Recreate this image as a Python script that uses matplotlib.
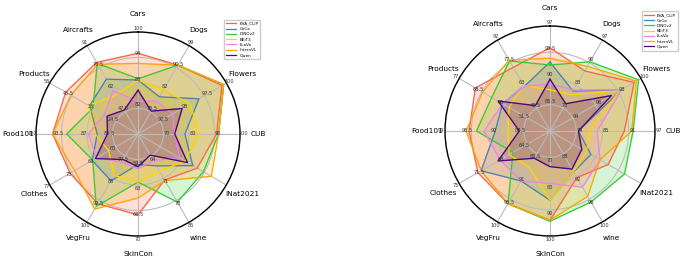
import numpy as np
import matplotlib
matplotlib.use("Agg")
import matplotlib.pyplot as plt

categories = ["Cars", "Dogs", "Flowers", "CUB", "iNat2021", "wine",
              "SkinCon", "VegFru", "Clothes", "Food101", "Products", "Aircrafts"]
models = ["EVA_CLIP", "CoCa", "DINOv2", "BEiT3", "LLaVa", "InternVL", "Qwen"]
colors = ["#ff6347", "#4682b4", "#32cd32", "#ffd700", "#ee82ee", "#ffa500", "#4b0082"]

# per-axis scale (top value and step between rings)
left_top = [100, 99, 100, 100, 100, 85, 70, 100, 77, 100, 56, 91]
left_step = [6, 8.5, 2.5, 10, 25, 7, 3.5, 7.5, 4, 6.5, 10.5, 14.5]
right_top = [97, 97, 100, 97, 100, 100, 100, 100, 75, 99, 77, 92]
right_step = [3.5, 7, 2, 6, 25, 4, 10, 4.5, 3.5, 3.5, 8.5, 14.5]
no_labels = ["iNat2021"]

left_scores = {
    "EVA_CLIP": [95.0, 91.5, 99.5, 90.8, 67, 71.6, 67.1, 93.7, 73.3, 95.8, 48.4, 80.0],
    "CoCa":     [88.7, 79.3, 96.9, 78.4, 62, 67.1, 60.2, 85.9, 69.3, 84.4, 37.1, 69.0],
    "DINOv2":   [89.0, 91.5, 99.7, 91.6, 74, 78.6, 62.6, 94.6, 69.2, 92.2, 35.4, 79.4],
    "BEiT3":    [88.7, 82.0, 95.9, 84.0, 53, 68.8, 62.6, 84.1, 66.3, 84.9, 37.5, 58.5],
    "LLaVa":    [83.7, 77.6, 93.9, 74.4, 47, 65.4, 60.8, 79.6, 68.5, 86.7, 30.0, 61.4],
    "InternVL": [92.6, 91.5, 99.7, 91.6, 83, 71.8, 64.8, 95.5, 72.5, 95.8, 45.9, 78.8],
    "Qwen":     [86.3, 73.8, 95.0, 74.4, 56, 63.7, 60.5, 78.7, 68.7, 81.8, 28.7, 48.7],
}
right_scores = {
    "EVA_CLIP": [94.1, 87.5, 99.4, 90.0, 64, 92.2, 94.0, 96.4, 72.1, 95.8, 70.9, 74.6],
    "CoCa":     [92.2, 81.3, 98.3, 79.5, 45, 91.2, 86.4, 91.9, 71.6, 92.3, 60.7, 62.4],
    "DINOv2":   [91.8, 90.3, 99.8, 92.0, 82, 96.5, 94.4, 96.4, 66.7, 94.8, 64.8, 78.7],
    "BEiT3":    [88.5, 80.2, 98.1, 82.1, 40, 91.2, 86.4, 89.2, 67.3, 90.6, 58.3, 63.0],
    "LLaVa":    [89.3, 81.6, 98.3, 83.8, 55, 93.9, 80.0, 91.9, 68.7, 93.8, 60.7, 62.4],
    "InternVL": [92.7, 88.9, 99.6, 91.7, 55, 95.5, 94.0, 96.4, 71.6, 96.2, 68.2, 79.2],
    "Qwen":     [89.9, 77.4, 97.4, 79.5, 35, 90.7, 73.6, 87.4, 69.0, 89.1, 62.4, 50.2],
}


def fmt(v):
    return f"{v:g}"


def radar(ax, scores, top, step):
    n = len(categories)
    angles = np.linspace(0, 2 * np.pi, n, endpoint=False)
    top = np.array(top, dtype=float)
    step = np.array(step, dtype=float)
    low = top - 4 * step

    ax.set_theta_offset(np.pi / 2)
    ax.set_theta_direction(-1)
    ax.set_ylim(0, 1)
    ax.set_xticks(angles)
    ax.set_xticklabels(categories, fontsize=5.3)
    ax.tick_params(axis="x", pad=2.5)
    ax.set_yticks([0.25, 0.5, 0.75, 1.0])
    ax.set_yticklabels([])
    ax.grid(color="#bbbbbb", linewidth=0.8)
    ax.spines["polar"].set_linewidth(1.0)
    ax.spines["polar"].set_color("black")

    for i, cat in enumerate(categories):
        if cat in no_labels:
            continue
        for k in range(1, 5):
            ax.text(angles[i], k * 0.25 + 0.035, fmt(low[i] + k * step[i]),
                    fontsize=3.6, ha="center", va="center", color="#333333")

    for name, col in zip(models, colors):
        vals = (np.array(scores[name]) - low) / (top - low)
        a = np.append(angles, angles[0])
        r = np.append(vals, vals[0])
        ax.plot(a, r, color=col, linewidth=0.9, label=name)
        ax.fill(a, r, color=col, alpha=0.2)

    ax.legend(loc="upper right", fontsize=3.0, handlelength=2.4,
              borderpad=0.5, labelspacing=0.3, framealpha=1.0)


fig = plt.figure(figsize=(6.86, 2.63), dpi=100)
ax1 = fig.add_axes([0.0525, 0.1027, 0.2974, 0.7757], projection="polar")
ax2 = fig.add_axes([0.6487, 0.1027, 0.3061, 0.7985], projection="polar")

radar(ax1, left_scores, left_top, left_step)
ax1.legend_.set_bbox_to_anchor((1.11, 1.07))
radar(ax2, right_scores, right_top, right_step)
ax2.legend_.set_bbox_to_anchor((1.12, 1.08))

fig.savefig("out.png", dpi=100)
